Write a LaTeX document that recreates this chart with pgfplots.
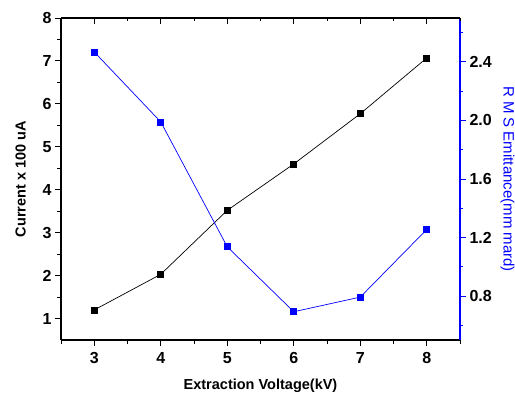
\documentclass[border=0pt]{standalone}
\usepackage{pgfplots}
\pgfplotsset{compat=1.18}
\usepackage{fontspec}
\setmainfont{Liberation Sans}
\definecolor{pblue}{RGB}{0,0,255}
\newcommand{\tlfont}{\fontsize{16}{16}\selectfont\bfseries}
\pgfplotstableread{
x cur
3 1.20
4 2.03
5 3.52
6 4.60
7 5.77
8 7.07
}\curdata
\pgfplotstableread{
x rms
3 2.468
4 1.990
5 1.137
6 0.693
7 0.793
8 1.255
}\rmsdata
\begin{document}
\begin{tikzpicture}
\path[use as bounding box] (-61pt,-54pt) rectangle (454pt,340pt);
\pgfplotsset{
  common/.style={
    scale only axis, width=399pt, height=322pt,
    xmin=2.5, xmax=8.5,
    xtick={3,4,5,6,7,8},
    minor xtick={2.5,3.5,4.5,5.5,6.5,7.5,8.5},
    major tick length=6pt, minor tick length=3.5pt,
    every tick/.style={line width=0.9pt},
    axis line style={line width=1.1pt},
    label style={font=\bfseries\fontsize{14.5}{14.5}\selectfont},
  }
}
\begin{axis}[common,
  axis x line*=bottom, axis y line*=left,
  tick align=outside,
  ymin=0.5, ymax=8,
  ytick={1,2,3,4,5,6,7,8},
  yticklabels={\tlfont 1,\tlfont 2,\tlfont 3,\tlfont 4,\tlfont 5,\tlfont 6,\tlfont 7,\tlfont 8},
  xticklabels={\tlfont 3,\tlfont 4,\tlfont 5,\tlfont 6,\tlfont 7,\tlfont 8},
  xticklabel style={yshift=-3pt},
  minor ytick={1.5,2.5,3.5,4.5,5.5,6.5,7.5},
  xlabel={Extraction Voltage(kV)},
  ylabel={Current x 100 uA},
  xlabel style={yshift=-8pt},
  ylabel style={yshift=10pt},
]
\addplot[black, line width=0.7pt, mark=square*, mark size=3pt, mark options={solid}] table[x=x,y=cur]{\curdata};
\end{axis}
\begin{axis}[common,
  axis x line=none, axis y line*=right,
  tick align=outside,
  ymin=0.5, ymax=2.7,
  ytick={0.8,1.2,1.6,2.0,2.4},
  yticklabels={\tlfont 0.8,\tlfont 1.2,\tlfont 1.6,\tlfont 2.0,\tlfont 2.4},
  minor ytick={0.6,1.0,1.4,1.8,2.2,2.6},
  y axis line style={pblue},
  ytick style={pblue},
  ylabel={R M S Emittance(mm mard)},
  ylabel style={font=\fontsize{15}{15}\selectfont, text=pblue, rotate=180, yshift=2pt},
]
\addplot[pblue, line width=0.7pt, mark=square*, mark size=3pt] table[x=x,y=rms]{\rmsdata};
\end{axis}
\begin{axis}[common,
  axis x line*=top, axis y line=none,
  tick align=inside,
  ymin=0, ymax=1,
  xticklabels={},
]
\end{axis}
\end{tikzpicture}
\end{document}
